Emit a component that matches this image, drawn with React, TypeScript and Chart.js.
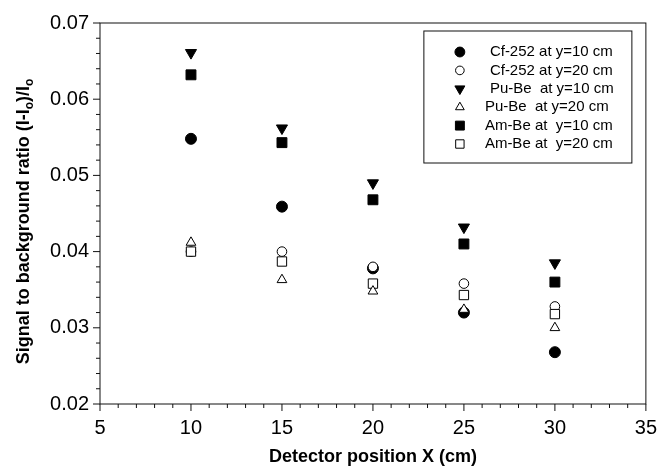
import { useEffect, useRef } from 'react';
import { Chart, registerables } from 'chart.js';
import { drawPoint } from 'chart.js/helpers';

Chart.register(...registerables);

// ---- data ----
const positions = [10, 15, 20, 25, 30];
const cf252Y10 = [0.0548, 0.0459, 0.0378, 0.032, 0.0268];
const cf252Y20 = [0.04, 0.04, 0.038, 0.0358, 0.0328];
const puBeY10 = [0.0661, 0.0562, 0.049, 0.0432, 0.0385];
const puBeY20 = [0.0412, 0.0363, 0.0348, 0.0324, 0.03];
const amBeY10 = [0.0632, 0.0543, 0.0468, 0.041, 0.036];
const amBeY20 = [0.04, 0.0387, 0.0358, 0.0343, 0.0318];

const seriesLabels = [
  'Cf-252 at y=10 cm',
  'Cf-252 at y=20 cm',
  'Pu-Be  at y=10 cm',
  'Pu-Be  at y=20 cm',
  'Am-Be at  y=10 cm',
  'Am-Be at  y=20 cm',
];
const xTickValues = [5, 10, 15, 20, 25, 30, 35];
const yTickValues = [0.02, 0.03, 0.04, 0.05, 0.06, 0.07];
const xTitle = 'Detector position X (cm)';
const yTitleParts = ['Signal to background ratio (I-I', 'o', ')/I', 'o'];

// ---- styles ----
const FONT = "'Liberation Sans', Arial, Helvetica, sans-serif";
const markerStyles = [
  { pointStyle: 'circle', rotation: 0, radius: 5.5, filled: true, order: 6 },
  { pointStyle: 'circle', rotation: 0, radius: 4.8, filled: false, order: 3 },
  { pointStyle: 'triangle', rotation: 180, radius: 6.4, filled: true, order: 4 },
  { pointStyle: 'triangle', rotation: 0, radius: 5.6, filled: false, order: 1 },
  { pointStyle: 'rect', rotation: 0, radius: 7, filled: true, order: 5 },
  { pointStyle: 'rect', rotation: 0, radius: 6.6, filled: false, order: 2 },
];
const legendTextOffset = [58, 58, 58, 53, 53, 53];

const seriesValues = [cf252Y10, cf252Y20, puBeY10, puBeY20, amBeY10, amBeY20];

export default function App() {
  const ref = useRef<HTMLCanvasElement>(null);

  useEffect(() => {
    document.body.style.margin = '0';
    const canvas = ref.current!;

    const framePlugin = {
      id: 'frame',
      afterDraw(chart: any) {
        const ctx = chart.ctx as CanvasRenderingContext2D;
        const { left, right, top, bottom } = chart.chartArea;
        const xs = chart.scales.x;
        const ys = chart.scales.y;
        ctx.save();
        ctx.strokeStyle = '#111';
        ctx.lineWidth = 1;
        ctx.strokeRect(left, top, right - left, bottom - top);
        ctx.beginPath();
        for (let v = 5; v <= 35; v += 1) {
          const px = xs.getPixelForValue(v);
          const len = v % 5 === 0 ? 7 : 4;
          ctx.moveTo(px, bottom);
          ctx.lineTo(px, bottom + len);
        }
        for (let i = 0; i <= 25; i++) {
          const v = 0.02 + i * 0.002;
          const py = ys.getPixelForValue(v);
          const len = i % 5 === 0 ? 7 : 4;
          ctx.moveTo(left, py);
          ctx.lineTo(left - len, py);
        }
        ctx.stroke();

        // y title with subscripts
        ctx.fillStyle = '#000';
        ctx.translate(24, (top + bottom) / 2 + 8);
        ctx.rotate(-Math.PI / 2);
        const big = `bold 18px ${FONT}`;
        const small = `bold 12px ${FONT}`;
        let total = 0;
        const widths = yTitleParts.map((t, i) => {
          ctx.font = i % 2 === 1 ? small : big;
          const w = ctx.measureText(t).width;
          total += w;
          return w;
        });
        let cx = -total / 2;
        ctx.textBaseline = 'middle';
        ctx.textAlign = 'left';
        yTitleParts.forEach((t, i) => {
          ctx.font = i % 2 === 1 ? small : big;
          ctx.fillText(t, cx, i % 2 === 1 ? 6 : 0);
          cx += widths[i];
        });
        ctx.restore();

        // legend
        ctx.save();
        const bx = right - 222;
        const by = top + 8;
        ctx.strokeStyle = '#111';
        ctx.lineWidth = 1;
        ctx.strokeRect(bx, by, 208, 132);
        ctx.font = `15px ${FONT}`;
        ctx.textBaseline = 'middle';
        ctx.textAlign = 'left';
        seriesLabels.forEach((label, i) => {
          const y = by + 21 + i * 18.4;
          const m = markerStyles[i];
          ctx.fillStyle = m.filled ? '#000' : '#fff';
          ctx.strokeStyle = '#000';
          ctx.lineWidth = 1;
          drawPoint(ctx, { pointStyle: m.pointStyle, rotation: m.rotation, radius: m.radius * 0.9, borderWidth: 1 } as any, bx + 36, y);
          ctx.fillStyle = '#000';
          ctx.fillText(label, bx + legendTextOffset[i] + 8, y);
        });
        ctx.restore();
      },
    };

    const chart = new Chart(canvas, {
      type: 'scatter',
      data: {
        datasets: seriesValues.map((vals, i) => ({
          label: seriesLabels[i],
          data: positions.map((x, j) => ({ x, y: vals[j] })),
          pointStyle: markerStyles[i].pointStyle as any,
          rotation: markerStyles[i].rotation,
          pointRadius: markerStyles[i].radius,
          pointBackgroundColor: markerStyles[i].filled ? '#000' : '#fff',
          pointBorderColor: '#000',
          pointBorderWidth: 1,
          order: markerStyles[i].order,
          showLine: false,
        })),
      },
      options: {
        responsive: false,
        animation: false,
        devicePixelRatio: 1,
        events: [],
        layout: { padding: { top: 15, right: 14, left: 0, bottom: 0 } },
        plugins: { legend: { display: false }, tooltip: { enabled: false } },
        scales: {
          x: {
            type: 'linear',
            min: 5,
            max: 35,
            afterFit: (s: any) => {
              s.height = 66;
            },
            afterBuildTicks: (s: any) => {
              s.ticks = xTickValues.map((value) => ({ value }));
            },
            ticks: {
              autoSkip: false,
              maxRotation: 0,
              padding: 12,
              color: '#000',
              font: { family: FONT, size: 20 },
              callback: (v: any) => String(v),
            },
            grid: { display: false, drawTicks: false },
            border: { display: false },
            title: {
              display: true,
              text: xTitle,
              color: '#000',
              font: { family: FONT, size: 18, weight: 'bold' },
              padding: { top: 0, bottom: 2 },
            },
          },
          y: {
            type: 'linear',
            min: 0.02,
            max: 0.07,
            afterFit: (s: any) => {
              s.width = 100;
            },
            afterBuildTicks: (s: any) => {
              s.ticks = yTickValues.map((value) => ({ value }));
            },
            ticks: {
              autoSkip: false,
              padding: 11,
              color: '#000',
              font: { family: FONT, size: 20 },
              callback: (v: any) => Number(v).toFixed(2),
            },
            grid: { display: false, drawTicks: false },
            border: { display: false },
          },
        },
      },
      plugins: [framePlugin],
    });

    return () => chart.destroy();
  }, []);

  return <canvas ref={ref} width={669} height={470} style={{ display: 'block' }} />;
}
